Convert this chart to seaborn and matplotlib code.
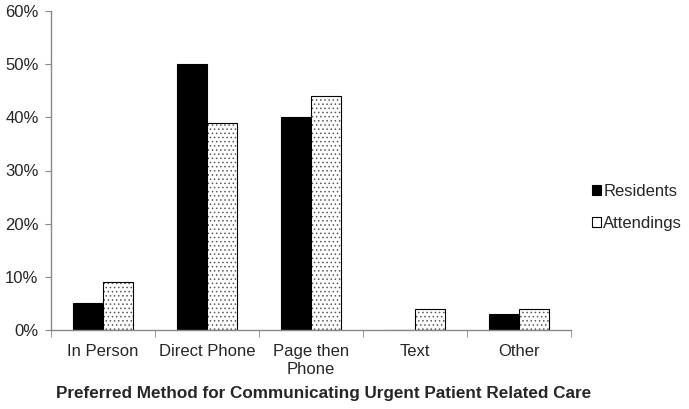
import pandas as pd
import matplotlib
matplotlib.use("Agg")
import matplotlib.pyplot as plt
import seaborn as sns
from matplotlib.ticker import PercentFormatter, FixedLocator

categories = ["In Person", "Direct Phone", "Page then\nPhone", "Text", "Other"]
residents = [5, 50, 40, 0, 3]
attendings = [9, 39, 44, 4, 4]
groups = ["Residents", "Attendings"]

df = pd.DataFrame({
    "method": categories * 2,
    "group": [groups[0]] * len(categories) + [groups[1]] * len(categories),
    "pct": residents + attendings,
})

sns.set_style("white")
plt.rcParams["font.family"] = ["Liberation Sans", "DejaVu Sans"]
plt.rcParams["hatch.linewidth"] = 0.6

fig = plt.figure(figsize=(6.89, 4.09), dpi=100)
ax = fig.add_axes([51 / 689, 79 / 409, 520 / 689, 319 / 409])

sns.barplot(data=df, x="method", y="pct", hue="group", order=categories,
            hue_order=groups, palette=["black", "white"], width=0.58,
            edgecolor="black", linewidth=0.8, ax=ax)

# dotted fill for attendings
for bar in ax.containers[1]:
    bar.set_hatch("....")
    bar._hatch_color = (0.35, 0.35, 0.35, 1.0)

ax.set_ylim(0, 60)
ax.set_xlim(-0.5, len(categories) - 0.5)
ax.set_yticks(range(0, 61, 10))
ax.yaxis.set_major_formatter(PercentFormatter(decimals=0))
ax.tick_params(axis="y", left=True, length=4, color="#888888", labelsize=12, pad=5)
ax.tick_params(axis="x", which="major", length=0, labelsize=12, pad=10)
for lbl in ax.get_xticklabels():
    lbl.set_linespacing(1.3)
ax.xaxis.set_minor_locator(FixedLocator([i - 0.5 for i in range(len(categories) + 1)]))
ax.tick_params(axis="x", which="minor", bottom=True, length=5, color="#888888")

for side in ["top", "right"]:
    ax.spines[side].set_visible(False)
for side in ["left", "bottom"]:
    ax.spines[side].set_color("#888888")
    ax.spines[side].set_linewidth(1)

ax.set_ylabel("")
ax.set_xlabel("Preferred Method for Communicating Urgent Patient Related Care",
              fontsize=12.3, fontweight="bold")
ax.xaxis.set_label_coords(0.525, -0.176)

leg = ax.legend(loc="center left", bbox_to_anchor=(1.04, 0.385), frameon=False,
                fontsize=12, handlelength=0.55, handleheight=0.55,
                handletextpad=0.15, labelspacing=1.0, borderpad=0,
                borderaxespad=0)

fig.savefig("out.png", dpi=100)
